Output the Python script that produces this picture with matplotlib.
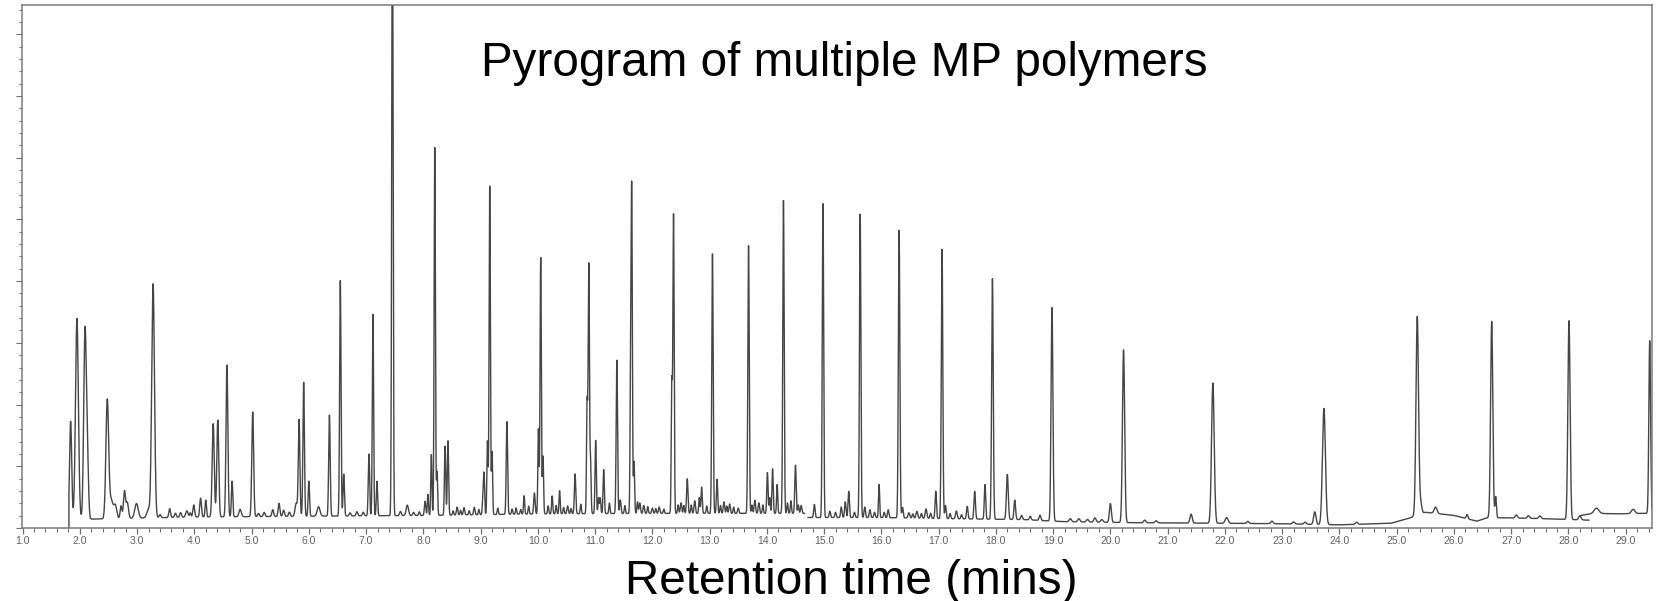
import numpy as np
import matplotlib.pyplot as plt
from matplotlib.ticker import MultipleLocator, FormatStrFormatter

plt.rcParams['font.family'] = ['Liberation Sans', 'DejaVu Sans']

# --- Peak tables (retention time in min, height in % of axis, sigma in min) ---
# first trace: 1.81 - 14.66 min
seg_a_rt = [1.84, 1.95, 2.09, 2.13, 2.48, 2.55, 2.62, 2.72, 2.78, 2.83, 2.99, 3.20, 3.28,
            3.40, 3.57, 3.67, 3.76, 3.87, 3.93, 3.99, 4.11, 4.20, 4.33, 4.41, 4.57, 4.66, 4.80, 5.02,
            5.12, 5.22, 5.37, 5.48, 5.56, 5.66, 5.78, 5.83, 5.91, 6.00, 6.17, 6.36, 6.55, 6.61, 6.72,
            6.84, 6.95, 7.05, 7.12, 7.19, 7.46, 7.60, 7.72, 7.83, 7.93, 8.03, 8.08, 8.14, 8.20, 8.24, 8.38,
            8.43, 8.52, 8.59, 8.65, 8.71, 8.80, 8.89, 8.97, 9.04, 9.06, 9.12, 9.16, 9.20, 9.30, 9.46,
            9.55, 9.62, 9.70, 9.76, 9.84, 9.94, 10.01,
            10.05, 10.09, 10.18, 10.25, 10.32, 10.38, 10.45, 10.52, 10.58, 10.65, 10.75, 10.86, 10.89,
            10.92, 11.01, 11.06,
            11.09, 11.15, 11.25, 11.38, 11.44, 11.52, 11.62, 11.64, 11.68, 11.74, 11.78, 11.85, 11.92,
            12.00, 12.06, 12.12, 12.20,
            12.34, 12.37, 12.45, 12.50, 12.55, 12.61, 12.68, 12.74, 12.82, 12.86, 12.95, 13.05, 13.13,
            13.19, 13.25, 13.30, 13.35, 13.42, 13.50,
            13.68, 13.74, 13.79, 13.86, 13.93, 14.01, 14.05, 14.10, 14.18, 14.29, 14.36, 14.42, 14.50,
            14.55, 14.60]
seg_a_height = [18.6, 38.3, 35.0, 12.0, 22.7, 3.5, 2.5, 2.4, 5.2, 3.0, 2.8, 1.6, 44.7,
                0.6, 1.7, 0.8, 0.9, 1.2, 0.8, 2.3, 3.6, 3.2, 17.8, 18.5, 29.0, 6.8, 1.4, 20.0,
                0.6, 0.8, 1.3, 2.5, 1.2, 0.8, 2.5, 18.4, 25.6, 6.7, 1.8, 19.3, 45.0, 8.0, 0.6,
                0.8, 0.7, 11.8, 38.5, 6.6, 120.0, 0.8, 2.0, 0.6, 0.7, 2.7, 4.0, 11.6, 70.3, 8.3, 13.2,
                14.2, 0.8, 1.5, 0.9, 1.4, 0.8, 1.4, 1.0, 3.0, 7.7, 14.0, 62.8, 12.0, 1.2, 17.7,
                1.0, 1.2, 0.9, 3.5, 1.5, 4.0, 16.2,
                49.0, 11.0, 1.5, 3.4, 1.6, 4.4, 1.2, 1.5, 1.0, 7.6, 1.8, 21.0, 47.6,
                10.0, 14.0, 3.0,
                3.0, 8.4, 2.0, 29.3, 2.6, 1.5, 23.0, 60.0, 9.9, 2.2, 2.0, 1.5, 1.3,
                1.0, 0.9, 1.2, 0.8,
                24.6, 57.0, 1.6, 2.0, 1.5, 6.6, 1.6, 2.4, 3.0, 5.0, 1.4, 49.6, 6.5,
                1.5, 2.2, 1.4, 1.8, 1.2, 1.0,
                51.2, 1.6, 2.5, 2.0, 1.6, 7.8, 3.0, 8.5, 5.5, 59.8, 2.0, 2.4, 9.2,
                1.6, 1.5]
seg_a_width = [0.018, 0.025, 0.022, 0.020, 0.024, 0.030, 0.025, 0.015, 0.018, 0.020, 0.030, 0.030, 0.024,
               0.015, 0.015, 0.015, 0.015, 0.020, 0.012, 0.015, 0.015, 0.012, 0.018, 0.017, 0.016, 0.012,
               0.020, 0.016,
               0.015, 0.015, 0.015, 0.015, 0.015, 0.015, 0.020, 0.014, 0.013, 0.012, 0.025, 0.013, 0.012,
               0.012, 0.015,
               0.015, 0.015, 0.012, 0.011, 0.011, 0.012, 0.015, 0.020, 0.015, 0.012, 0.012, 0.010, 0.010,
               0.011, 0.010, 0.011,
               0.011, 0.010, 0.012, 0.010, 0.012, 0.010, 0.012, 0.010, 0.010, 0.010, 0.010, 0.011, 0.010,
               0.010, 0.012,
               0.010, 0.010, 0.010, 0.010, 0.010, 0.012, 0.010,
               0.011, 0.010, 0.010, 0.010, 0.010, 0.010, 0.010, 0.012, 0.010, 0.012, 0.010, 0.010, 0.011,
               0.010, 0.011, 0.010,
               0.010, 0.011, 0.010, 0.012, 0.012, 0.010, 0.010, 0.011, 0.010, 0.010, 0.012, 0.012, 0.010,
               0.012, 0.010, 0.012, 0.010,
               0.010, 0.011, 0.010, 0.012, 0.010, 0.012, 0.010, 0.012, 0.010, 0.011, 0.010, 0.012, 0.011,
               0.010, 0.012, 0.010, 0.012, 0.010, 0.012,
               0.012, 0.010, 0.012, 0.012, 0.010, 0.011, 0.010, 0.011, 0.010, 0.012, 0.010, 0.010, 0.012,
               0.010, 0.012]
seg_a_base_t = [1.81, 2.2, 4.0, 8.0, 10.0, 12.0, 14.66]
seg_a_base_v = [1.8, 1.7, 2.1, 2.4, 2.7, 2.8, 2.8]

# second trace: 14.72 - 28.36 min
seg_b_rt = [14.83, 14.98, 15.10, 15.20, 15.30, 15.37, 15.43, 15.53, 15.63, 15.71, 15.80, 15.88,
            15.96, 16.05, 16.12,
            16.31, 16.37, 16.48, 16.55, 16.62, 16.70, 16.78, 16.86, 16.95, 17.06, 17.12, 17.20,
            17.31, 17.40, 17.50, 17.63,
            17.81, 17.94, 18.20, 18.33, 18.45, 18.60, 18.77, 18.98, 19.30, 19.45, 19.60, 19.73,
            19.85, 20.00, 20.23,
            20.60, 20.80, 21.41, 21.79, 22.03, 22.40, 22.82, 23.20, 23.40, 23.57, 23.73, 24.30, 25.36,
            25.42, 25.68, 26.23, 26.66, 26.73, 27.09, 27.30, 27.50, 28.01, 28.20]
seg_b_height = [2.5, 60.0, 1.2, 1.0, 2.0, 3.0, 5.0, 1.0, 58.0, 2.0, 1.5, 1.0,
                6.3, 1.0, 1.5,
                55.0, 2.0, 1.0, 0.8, 1.3, 0.9, 1.8, 1.0, 5.2, 51.5, 2.5, 1.0,
                1.5, 0.8, 2.4, 5.3,
                6.6, 46.0, 8.6, 3.7, 0.8, 0.7, 1.0, 40.8, 0.6, 0.6, 0.5, 0.8,
                0.5, 3.6, 33.0,
                0.5, 0.4, 1.7, 26.8, 1.1, 0.4, 0.5, 0.4, 0.4, 2.4, 22.2, 0.4, 38.0,
                2.0, 1.2, 0.8, 37.5, 4.0, 0.6, 0.5, 0.5, 38.0, 0.8]
seg_b_width = [0.012, 0.012, 0.012, 0.012, 0.012, 0.012, 0.012, 0.012, 0.012, 0.012, 0.012, 0.012,
               0.010, 0.012, 0.012,
               0.013, 0.012, 0.015, 0.012, 0.015, 0.012, 0.015, 0.012, 0.012, 0.013, 0.012, 0.012,
               0.015, 0.012, 0.013, 0.013,
               0.012, 0.014, 0.016, 0.014, 0.015, 0.015, 0.015, 0.016, 0.020, 0.020, 0.020, 0.020,
               0.020, 0.017, 0.019,
               0.020, 0.020, 0.020, 0.023, 0.025, 0.020, 0.020, 0.020, 0.020, 0.020, 0.026, 0.020, 0.022,
               0.020, 0.025, 0.015, 0.019, 0.012, 0.020, 0.020, 0.020, 0.019, 0.020]
seg_b_base_t = [14.72, 16.0, 17.0, 18.5, 19.2, 20.5, 22.0, 23.0, 24.0, 24.9, 25.2, 25.5, 26.0, 26.4, 26.6, 27.5, 28.36]
seg_b_base_v = [2.0, 2.0, 1.8, 1.6, 1.2, 1.0, 0.9, 0.8, 0.6, 0.9, 1.8, 3.0, 2.4, 1.3, 2.0, 1.8, 1.5]

# third trace: 28.22 - end
seg_c_rt = [28.49, 29.13, 29.42]
seg_c_height = [1.0, 0.8, 33.0]
seg_c_width = [0.04, 0.03, 0.015]
seg_c_base_t = [28.22, 28.45, 28.9, 29.3, 29.46]
seg_c_base_v = [2.4, 2.8, 2.7, 2.8, 2.8]


def build_trace(base_t, base_v, rt, height, width):
    t = np.arange(base_t[0], base_t[-1], 0.002)
    y = np.interp(t, base_t, base_v)
    for c, a, s in zip(rt, height, width):
        y = y + a * np.exp(-0.5 * ((t - c) / s) ** 2)
    return t, y


ta, ya = build_trace(seg_a_base_t, seg_a_base_v, seg_a_rt, seg_a_height, seg_a_width)
ta = np.concatenate([[ta[0]], ta])
ya = np.concatenate([[0.0], ya])
tb, yb = build_trace(seg_b_base_t, seg_b_base_v, seg_b_rt, seg_b_height, seg_b_width)
tc, yc = build_trace(seg_c_base_t, seg_c_base_v, seg_c_rt, seg_c_height, seg_c_width)

fig = plt.figure(figsize=(16.65, 6.01), dpi=100)
ax = fig.add_axes([0.0132, 0.1215, 0.979, 0.8702])

line_color = "#454545"
for t, y in [(ta, ya), (tb, yb), (tc, yc)]:
    ax.plot(t, y, color=line_color, lw=1.0)

ax.set_xlim(0.99, 29.46)
ax.set_ylim(0, 100)

ax.xaxis.set_major_locator(MultipleLocator(1.0))
ax.xaxis.set_minor_locator(MultipleLocator(0.2))
ax.xaxis.set_major_formatter(FormatStrFormatter("%.1f"))
ax.yaxis.set_major_locator(MultipleLocator(11.8))
ax.yaxis.set_minor_locator(MultipleLocator(2.36))
ax.tick_params(axis="y", which="both", labelleft=False, direction="out", color="#707070")
ax.tick_params(axis="y", which="major", length=4, width=0.8)
ax.tick_params(axis="y", which="minor", length=2.2, width=0.8)
ax.tick_params(axis="x", which="both", direction="out", color="#707070", labelsize=7.5,
               labelcolor="#606060", pad=2)
ax.tick_params(axis="x", which="major", length=4, width=0.9)
ax.tick_params(axis="x", which="minor", length=3, width=0.8)

for sp in ax.spines.values():
    sp.set_color("#7a7a7a")
    sp.set_linewidth(1.1)

ax.text(0.2816, 0.864, "Pyrogram of multiple MP polymers", transform=ax.transAxes,
        fontsize=34.3, ha="left", va="baseline", color="black")
fig.text(0.511, 0.012, "Retention time (mins)", ha="center", va="baseline",
         fontsize=34.3, color="black")

fig.savefig("out.png", dpi=100)
